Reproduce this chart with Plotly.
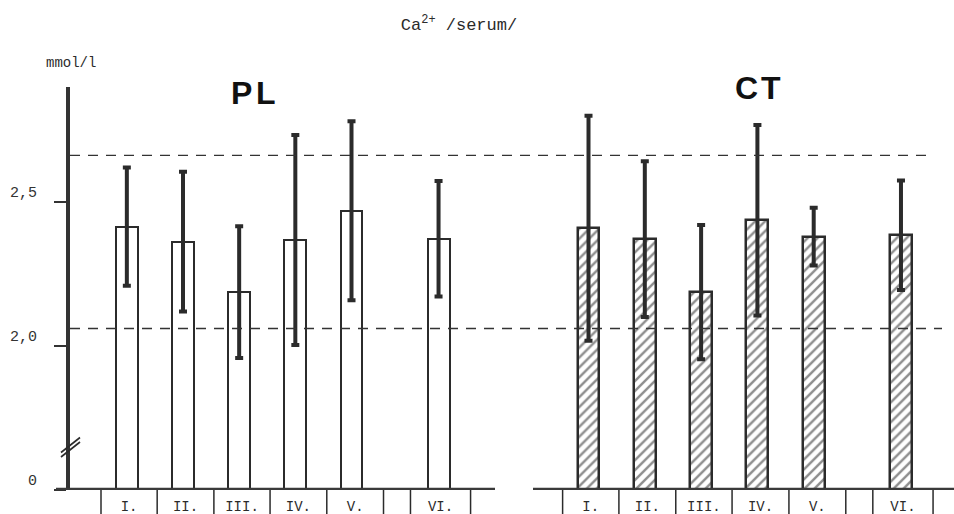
import plotly.graph_objects as go

# ---- data ----
categories = ["I.", "II.", "III.", "IV.", "V.", "VI."]
slot_pos = [0, 1, 2, 3, 4, 5.55]          # category slots (gap before VI)
pl_mean = [2.413, 2.361, 2.186, 2.367, 2.468, 2.371]
pl_sd = [0.205, 0.242, 0.228, 0.364, 0.310, 0.200]
ct_mean = [2.407, 2.370, 2.186, 2.435, 2.378, 2.383]
ct_sd = [0.390, 0.270, 0.233, 0.330, 0.100, 0.190]
ref_low, ref_high = 2.06, 2.66
ytick_vals = [1.5, 2.0, 2.5]               # 1.5 = broken-axis origin
ytick_text = ["0", "2,0", "2,5"]
box_edges = [-0.46, 0.54, 1.55, 2.55, 3.56, 4.57, 5.05, 6.12]

# ---- layout constants ----
W, H = 954, 514
ML, MR, MT, MB = 70, 0, 87, 24
PW = W - ML - MR
PH = H - MT - MB

def px(x):  # pixel -> paper x
    return (x - ML) / PW

def py(y):  # pixel -> paper y
    return (H - MB - y) / PH

INK = "#2b2b2b"
MONO = "Courier New, Liberation Mono, monospace"
BOLD = "Liberation Sans, Arial, sans-serif"

boxes = [(box_edges[i], box_edges[i + 1]) for i in range(5)] + [(box_edges[6], box_edges[7])]
box_centers = [(a + b) / 2 for a, b in boxes]

fig = go.Figure()
fig.add_trace(go.Bar(
    x=slot_pos, y=pl_mean, xaxis="x", yaxis="y", width=0.39,
    marker=dict(color="white", line=dict(color=INK, width=2)),
    error_y=dict(type="data", array=pl_sd, visible=True, color=INK, thickness=4, width=4),
    hoverinfo="skip",
))
fig.add_trace(go.Bar(
    x=slot_pos, y=ct_mean, xaxis="x2", yaxis="y", width=0.39,
    marker=dict(color="white", line=dict(color=INK, width=2.5),
                pattern=dict(shape="/", fgcolor="#1e1e1e", bgcolor="white", size=7, solidity=0.35)),
    error_y=dict(type="data", array=ct_sd, visible=True, color=INK, thickness=4, width=4),
    hoverinfo="skip",
))

xcommon = dict(showline=False, ticks="", showgrid=False, zeroline=False,
               tickvals=box_centers, ticktext=categories, ticklabelstandoff=6,
               tickfont=dict(family=MONO, size=14, color=INK), anchor="y")

shapes = []
# baselines
shapes.append(dict(type="line", xref="paper", yref="y", x0=px(56), x1=px(495), y0=1.5, y1=1.5,
                   line=dict(color="#3a3a3a", width=4.5)))
shapes.append(dict(type="line", xref="paper", yref="y", x0=px(533), x1=1, y0=1.5, y1=1.5,
                   line=dict(color="#3a3a3a", width=4.5)))
# reference (dashed) lines
shapes.append(dict(type="line", xref="paper", yref="y", x0=0, x1=px(931), y0=ref_high, y1=ref_high,
                   line=dict(color="#333", width=1.4, dash="10px,8px")))
shapes.append(dict(type="line", xref="paper", yref="y", x0=0, x1=px(942), y0=ref_low, y1=ref_low,
                   line=dict(color="#333", width=1.4, dash="10px,8px")))
# category box dividers
for ax in ("x", "x2"):
    for e in box_edges:
        shapes.append(dict(type="line", xref=ax, yref="paper", x0=e, x1=e, y0=0, y1=-0.1,
                           line=dict(color=INK, width=1.5)))
# axis break marks
for dy in (0, 4.5):
    shapes.append(dict(type="line", xref="paper", yref="paper",
                       x0=px(61), x1=px(80), y0=py(457 - dy), y1=py(442 - dy),
                       line=dict(color=INK, width=1.6)))

annotations = [
    dict(text="mmol/l", xref="paper", yref="paper", x=px(71), y=py(63), showarrow=False,
         font=dict(family=MONO, size=14, color=INK), xanchor="center", yanchor="middle"),
    dict(text="<b>P</b>", xref="paper", yref="paper", x=px(241), y=py(93), showarrow=False,
         font=dict(family=BOLD, size=32, color="#111"), xanchor="center", yanchor="middle"),
    dict(text="<b>L</b>", xref="paper", yref="paper", x=px(266), y=py(93), showarrow=False,
         font=dict(family=BOLD, size=32, color="#111"), xanchor="center", yanchor="middle"),
    dict(text="<b>C</b>", xref="paper", yref="paper", x=px(746), y=py(88), showarrow=False,
         font=dict(family=BOLD, size=32, color="#111"), xanchor="center", yanchor="middle"),
    dict(text="<b>T</b>", xref="paper", yref="paper", x=px(771), y=py(88), showarrow=False,
         font=dict(family=BOLD, size=32, color="#111"), xanchor="center", yanchor="middle"),
]

fig.update_layout(
    width=W, height=H,
    margin=dict(l=ML, r=MR, t=MT, b=MB),
    paper_bgcolor="white", plot_bgcolor="white",
    showlegend=False, bargap=0,
    title=dict(text="Ca<sup>2+</sup> /serum/", x=459 / W, xref="container", y=1 - 24 / H,
               yref="container", xanchor="center", yanchor="middle",
               font=dict(family=MONO, size=17, color=INK)),
    xaxis=dict(domain=[0, px(495)], range=[-1.012, 6.555], **xcommon),
    xaxis2=dict(domain=[px(533), 1], range=[-0.986, 6.492], **xcommon),
    yaxis=dict(domain=[0, 1], range=[1.5, 2.897], showline=True, linewidth=4, linecolor="#333",
               ticks="outside", ticklen=12, tickwidth=1.5, tickcolor="#333",
               tickvals=ytick_vals, ticktext=ytick_text, ticklabelshift=-10, ticklabelstandoff=14,
               tickfont=dict(family=MONO, size=15, color="#333"),
               showgrid=False, zeroline=False),
    shapes=shapes, annotations=annotations,
)

fig.write_html("out.html", config={"displayModeBar": False},
               post_script="document.body.style.margin='0';")
